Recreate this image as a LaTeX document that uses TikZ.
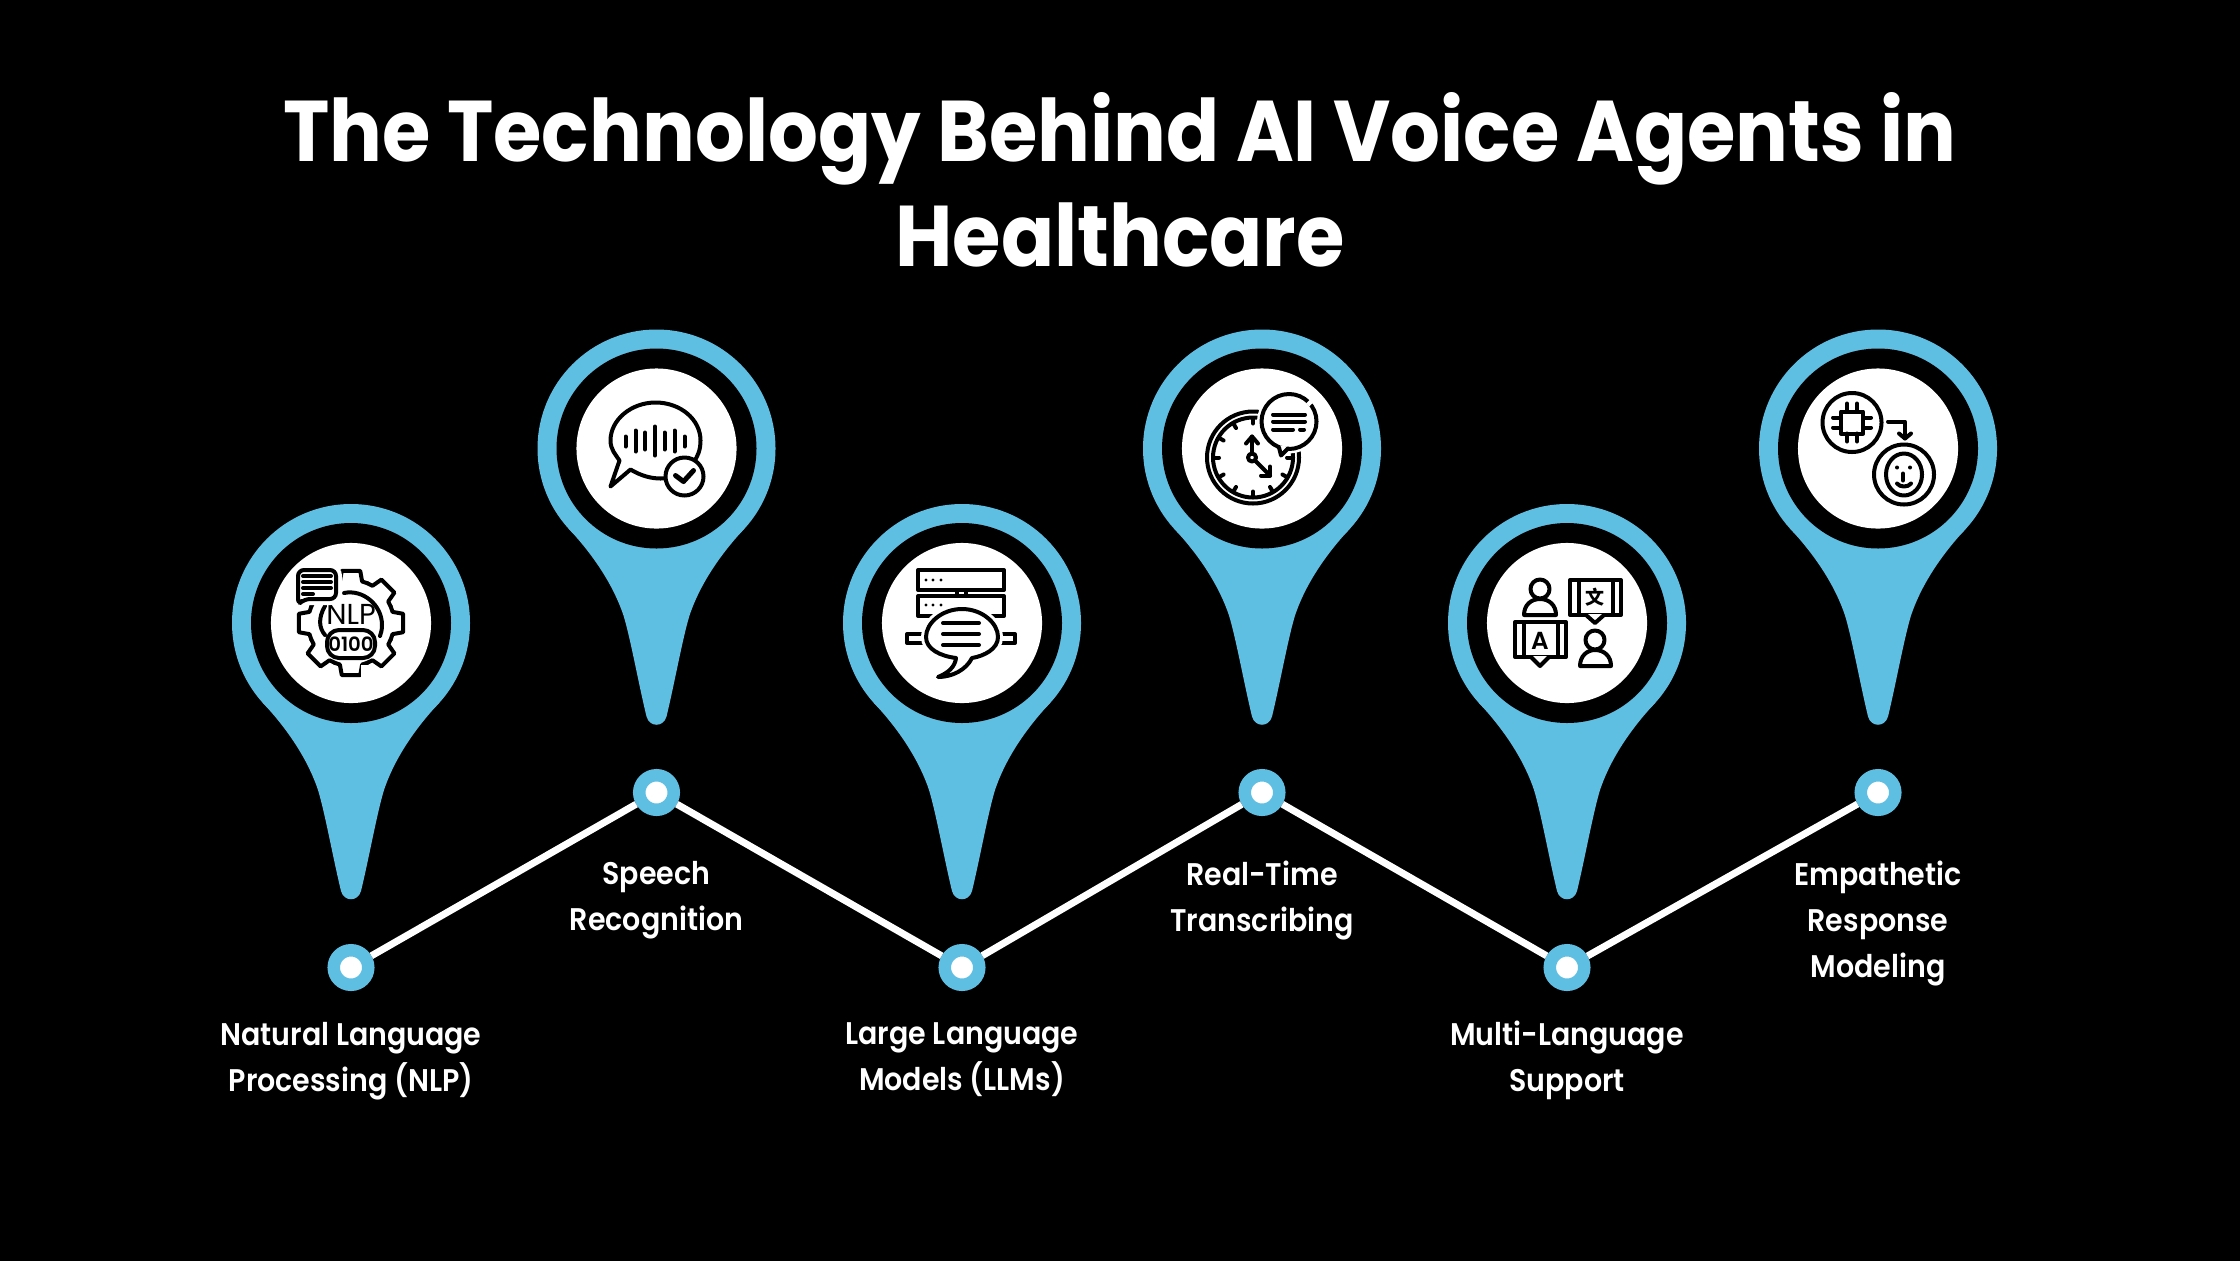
\documentclass[tikz,border=0pt]{standalone}
\usepackage{fontspec}
\usetikzlibrary{positioning}
\setmainfont{Poppins}[UprightFont=* SemiBold,BoldFont=* Bold,FakeStretch=0.91]
\newfontfamily\iconfont{Poppins}[BoldFont=* SemiBold]
\newfontfamily\cjk{Noto Sans CJK SC}
\definecolor{pinblue}{HTML}{5FBFE3}
\tikzset{
  pinbody/.pic={
    \fill[pinblue] (0,0) circle (119);
    \fill[pinblue] (-88,80) .. controls (-60,110) and (-42,140) .. (-33,167)
      .. controls (-26,190) and (-18,235) .. (-10,268)
      .. controls (-7,279) and (7,279) .. (10,268)
      .. controls (18,235) and (26,190) .. (33,167)
      .. controls (42,140) and (60,110) .. (88,80) -- cycle;
    \fill[black] (0,0) circle (100);
  },
  iconback/.style={circle, fill=white, minimum size=1.6cm, inner sep=0pt},
  pindot/.style={circle, fill=white, draw=pinblue, line width=0.125cm, minimum size=0.345cm, inner sep=0pt},
  pinlabel/.style={text=white, align=center, inner sep=0pt, font=\fontsize{8.9}{13.1}\selectfont, execute at begin node=\strut, execute at end node=\strut},
  trackline/.style={draw=white, line width=0.07cm},
  iconline/.style={draw=black, line width=0.04cm, line cap=round, line join=round},
  iconbold/.style={draw=black, line width=0.05cm, line cap=round, line join=round},
}

\begin{document}
\begin{tikzpicture}[x=0.01cm, y=-0.01cm]
  \useasboundingbox (0,0) rectangle (2240,1260);
  \fill[black] (-10,-10) rectangle (2250,1270);

  % Title
  \node[text=white, align=center, font=\fontsize{24.5}{29.9}\selectfont\bfseries] (title) at (1120,180)
    {The Technology Behind AI Voice Agents in\\Healthcare};

  % Pins
  \pic at (351,623) {pinbody};
  \pic at (656.5,448.5) {pinbody};
  \pic at (962,623) {pinbody};
  \pic at (1262,448.5) {pinbody};
  \pic at (1567,623) {pinbody};
  \pic at (1878,448.5) {pinbody};
  \node[iconback] (iconnlp) at (351,623) {};
  \node[iconback] (iconspeech) at (656.5,448.5) {};
  \node[iconback] (iconllm) at (962,623) {};
  \node[iconback] (icontime) at (1262,448.5) {};
  \node[iconback] (iconmulti) at (1567,623) {};
  \node[iconback] (iconempathy) at (1878,448.5) {};

  % Track
  \node[pindot] (dotnlp) at (351,967.5) {};
  \node[pindot] (dotspeech) at (656.5,792.5) {};
  \node[pindot] (dotllm) at (962,967.5) {};
  \node[pindot] (dottime) at (1262,792.5) {};
  \node[pindot] (dotmulti) at (1567,967.5) {};
  \node[pindot] (dotempathy) at (1878,792.5) {};
  \draw[trackline] (dotnlp) -- (dotspeech);
  \draw[trackline] (dotspeech) -- (dotllm);
  \draw[trackline] (dotllm) -- (dottime);
  \draw[trackline] (dottime) -- (dotmulti);
  \draw[trackline] (dotmulti) -- (dotempathy);

  % Labels
  \node[pinlabel, below=0.31cm of dotnlp] (lblnlp) {Natural Language\\Processing (NLP)};
  \node[pinlabel, below=0.45cm of dotspeech] (lblspeech) {Speech\\Recognition};
  \node[pinlabel, below=0.31cm of dotllm] (lblllm) {Large Language\\Models (LLMs)};
  \node[pinlabel, below=0.44cm of dottime] (lbltime) {Real-Time\\Transcribing};
  \node[pinlabel, below=0.29cm of dotmulti] (lblmulti) {Multi-Language\\Support};
  \node[pinlabel, below=0.44cm of dotempathy] (lblempathy) {Empathetic\\Response\\Modeling};

  % NLP icon
  \begin{scope}[shift={(iconnlp.center)}]
    \foreach \a in {0,45,...,315}
      \draw[iconline] (\a-22.5:43) -- (\a-15:43) -- (\a-10:53) -- (\a+10:53) -- (\a+15:43) -- (\a+22.5:43);
    \fill[white] (10,55) rectangle (22,42);
    \draw[iconline] (-7,-30) .. controls (12,-34) and (31,-18) .. (31,2) .. controls (31,7) and (30,10) .. (29,13);
    \draw[iconline] (-26,-17) .. controls (-33,-5) and (-32,5) .. (-26,12);
    \filldraw[iconline, fill=white, rounded corners=1.2mm] (-24,7) rectangle (24,35);
    \node[inner sep=0pt, font=\iconfont\fontsize{8.2}{8.2}\selectfont] (nlptext) at (0,-9) {NLP};
    \node[inner sep=0pt, font=\iconfont\bfseries\fontsize{5.6}{5.6}\selectfont] (nlpbits) at (0,21) {0100};
    \filldraw[iconline, fill=white, rounded corners=0.6mm, preaction={draw=white, line width=0.12cm}]
      (-53,-18) -- (-53,-53) -- (-15,-53) -- (-15,-24) -- (-47,-24) -- cycle;
    \draw[iconline] (-48,-47) -- (-20,-47);
    \draw[iconline] (-48,-41) -- (-20,-41);
    \draw[iconline] (-48,-35) -- (-20,-35);
    \draw[iconline] (-48,-29) -- (-38,-29);
  \end{scope}

  % Speech icon
  \begin{scope}[shift={(iconspeech.center)}]
    \draw[iconline] (-37,12) .. controls (-41,6) and (-46,1) .. (-46,-8)
      .. controls (-46,-29) and (-25,-46) .. (-1,-46)
      .. controls (24,-46) and (44,-29) .. (44,-8)
      .. controls (44,2) and (41,8) .. (37,14)
      .. controls (28,26) and (14,30) .. (4,30)
      .. controls (-6,30) and (-16,27) .. (-26,21) -- (-46,38) -- cycle;
    \filldraw[iconline, fill=white] (28,28) circle (19);
    \draw[iconbold] (19,27) -- (27,33) -- (37,22);
    \draw[iconline] (-31,-12) -- (-31,-2);
    \draw[iconline] (-21,-18) -- (-21,3);
    \draw[iconline] (-11.5,-16) -- (-11.5,1);
    \draw[iconline] (-1.7,-22) -- (-1.7,7);
    \draw[iconline] (8,-16) -- (8,1);
    \draw[iconline] (18,-18) -- (18,3);
    \draw[iconline] (28,-12) -- (28,-2);
  \end{scope}

  % LLM icon
  \begin{scope}[shift={(iconllm.center)}]
    \draw[iconline] (-44,-53) rectangle (42,-33);
    \draw[iconline] (-44,-27) rectangle (42,-7);
    \draw[iconline] (-5,-33) -- (-5,-27);
    \draw[iconline] (4,-33) -- (4,-27);
    \fill (-36,-43) circle (1.6);
    \fill (-29,-43) circle (1.6);
    \fill (-21,-43) circle (1.6);
    \fill (-36,-18) circle (1.6);
    \fill (-29,-18) circle (1.6);
    \fill (-21,-18) circle (1.6);
    \draw[iconline] (-40,11) -- (-55,11) -- (-55,20) -- (-40,20);
    \draw[iconline] (38,11) -- (53,11) -- (53,20) -- (38,20);
    \filldraw[iconline, fill=white, preaction={draw=white, line width=0.1cm}]
      (-6,35) .. controls (-22,33) and (-36,26) .. (-36,14)
      .. controls (-36,0) and (-20,-14) .. (0,-14)
      .. controls (20,-14) and (36,0) .. (36,14)
      .. controls (36,26) and (22,33) .. (10,35)
      .. controls (4,47) and (-10,54) .. (-24,54)
      .. controls (-14,50) and (-7,44) .. (-6,35) -- cycle;
    \draw[iconline] (-19,0) -- (17,0);
    \draw[iconline] (-19,11) -- (17,11);
    \draw[iconline] (-19,22) -- (17,22);
  \end{scope}

  % Time icon
  \begin{scope}[shift={(icontime.center)}]
    \draw[iconline] (-9,9) circle (46);
    \draw[iconline] (-9,9) circle (40);
    \foreach \a in {30,60,...,360}
      \draw[iconline] (-9,9) ++(\a:39) -- ++(\a:-5);
    \filldraw[iconline, fill=white] (-10,9) circle (4);
    \draw[iconline] (-10,5) -- (-10,-12);
    \draw[iconline] (-16,-5) -- (-10,-12) -- (-4,-5);
    \draw[iconline] (-7,12) -- (8,27);
    \draw[iconline] (-1,27) -- (8,27) -- (8,18);
    \filldraw[iconline, fill=white, preaction={draw=white, line width=0.09cm}] (27,-27) circle (27.5);
    \fill[white] (18,-3) -- (19,7) -- (25,-2) -- cycle;
    \draw[iconline] (17,-1) -- (19,7) -- (26,0);
    \draw[draw=white, line width=0.05cm] (46,-47) -- (49,-44);
    \draw[iconline] (11,-34) -- (43,-34);
    \draw[iconline] (11,-27) -- (43,-27);
    \draw[iconline] (11,-19) -- (31,-19);
    \draw[iconline] (38,-19) -- (42,-19);
  \end{scope}

  % Multi language icon
  \begin{scope}[shift={(iconmulti.center)}]
    \draw[iconline] (-27,-34) circle (9.5);
    \draw[iconline] (-43,-8) .. controls (-43,-18) and (-36,-24) .. (-27,-24) .. controls (-18,-24) and (-11,-18) .. (-11,-8) -- cycle;
    \draw[iconline] (28,17) circle (9.5);
    \draw[iconline] (13,43) .. controls (13,33) and (20,27) .. (28,27) .. controls (37,27) and (44,33) .. (44,43) -- cycle;
    \draw[iconline] (3,-43) rectangle (54,-8);
    \fill[white] (19,-9) rectangle (37,-6);
    \draw[iconline] (19,-8) -- (28,0) -- (37,-8);
    \draw[iconline] (12,-43) -- (12,-8);
    \draw[iconline] (46,-43) -- (46,-8);
    \node[inner sep=0pt, font=\cjk\bfseries\fontsize{5.4}{5.4}\selectfont] (wordcn) at (28,-26) {文};
    \draw[iconline] (-52,-1) rectangle (-1,34);
    \fill[white] (-36,33) rectangle (-18,36);
    \draw[iconline] (-36,34) -- (-27,43) -- (-18,34);
    \draw[iconline] (-43,-1) -- (-43,34);
    \draw[iconline] (-9,-1) -- (-9,34);
    \node[inner sep=0pt, font=\iconfont\bfseries\fontsize{7}{7}\selectfont] (wordlat) at (-27,18) {A};
  \end{scope}

  % Empathy icon
  \begin{scope}[shift={(iconempathy.center)}]
    \draw[iconline] (-26,-26) circle (29.5);
    \draw[iconline] (-37,-37) rectangle (-15,-15);
    \draw[iconline] (-31,-45) -- (-31,-37);
    \draw[iconline] (-21,-45) -- (-21,-37);
    \draw[iconline] (-31,-15) -- (-31,-7);
    \draw[iconline] (-21,-15) -- (-21,-7);
    \draw[iconline] (-45,-31) -- (-37,-31);
    \draw[iconline] (-45,-21) -- (-37,-21);
    \draw[iconline] (-15,-31) -- (-7,-31);
    \draw[iconline] (-15,-21) -- (-7,-21);
    \draw[iconline] (10,-27) -- (27,-27) -- (27,-10);
    \draw[iconline] (21,-15) -- (27,-10) -- (33,-15);
    \draw[iconline] (26,26) circle (30);
    \draw[iconline] (26,26) ellipse (18 and 21);
    \fill (19,19) circle (2);
    \fill (32,19) circle (2);
    \draw[iconline] (25,25) -- (25,32);
    \draw[iconline] (19,35) .. controls (22,39) and (30,39) .. (33,35);
  \end{scope}
\end{tikzpicture}
\end{document}
